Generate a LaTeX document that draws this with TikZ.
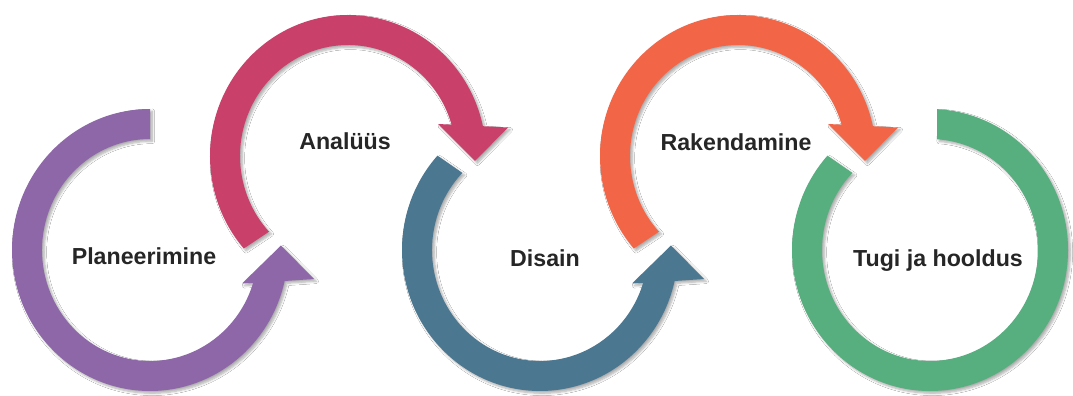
\documentclass[tikz,border=0pt]{standalone}
\usepackage{fontspec}
\setmainfont{Liberation Sans}
\usetikzlibrary{shadows.blur}

\definecolor{phasePurple}{HTML}{8E67A9}
\definecolor{phasePink}{HTML}{C9406A}
\definecolor{phaseBlue}{HTML}{4B7790}
\definecolor{phaseOrange}{HTML}{F26647}
\definecolor{phaseGreen}{HTML}{57AE7E}
\definecolor{labelText}{HTML}{262626}

\tikzset{
  band/.style={blur shadow={shadow xshift=1.3pt, shadow yshift=-1.3pt,
      shadow blur radius=1.3pt, shadow blur steps=6, shadow opacity=32}},
  phaselabel/.style={font=\fontsize{13.2}{16}\selectfont\bfseries,
      text=labelText, anchor=base, inner sep=0pt},
}

\begin{document}
\begin{tikzpicture}[x=0.02cm, y=0.02cm]
  \fill[white] (0,0) rectangle (1073,396);
  \useasboundingbox (0,0) rectangle (1073,396);

  % Planeerimine: lower ring, arrow ends pointing up
  \begin{scope}[shift={(150,146)}]
    \fill[phasePurple, band] (90:138 and 141)
      arc[start angle=90, end angle=347.3, x radius=138, y radius=141]
      -- (164,-29) -- (131,4.5) -- (92,-33.5) -- (342.8:108 and 111)
      arc[start angle=342.8, end angle=90, x radius=108, y radius=111] -- cycle;
  \end{scope}

  % Analüüs: upper ring, arrow ends pointing down
  \begin{scope}[shift={(348,240)}]
    \fill[phasePink, band] (221:138 and 141)
      arc[start angle=221, end angle=12.2, x radius=138, y radius=141]
      -- (160,28.5) -- (127,-5) -- (90,32) -- (16.4:108 and 111)
      arc[start angle=16.4, end angle=223, x radius=108, y radius=111] -- cycle;
  \end{scope}

  % Disain: lower ring
  \begin{scope}[shift={(540,146)}]
    \fill[phaseBlue, band] (138:138 and 141)
      arc[start angle=138, end angle=347.3, x radius=138, y radius=141]
      -- (164,-29) -- (131,4.5) -- (92,-33.5) -- (342.8:108 and 111)
      arc[start angle=342.8, end angle=136, x radius=108, y radius=111] -- cycle;
  \end{scope}

  % Rakendamine: upper ring
  \begin{scope}[shift={(738,240)}]
    \fill[phaseOrange, band] (221:138 and 141)
      arc[start angle=221, end angle=12.2, x radius=138, y radius=141]
      -- (160,28.5) -- (127,-5) -- (90,32) -- (16.4:108 and 111)
      arc[start angle=16.4, end angle=223, x radius=108, y radius=111] -- cycle;
  \end{scope}

  % Tugi ja hooldus: open ring without arrow head
  \begin{scope}[shift={(930,146)}]
    \fill[phaseGreen, band] (87:138 and 141)
      arc[start angle=87, end angle=-222, x radius=138, y radius=141]
      -- (-224:108 and 111)
      arc[start angle=-224, end angle=86.3, x radius=108, y radius=111] -- cycle;
  \end{scope}

  % phase labels
  \node[phaselabel] (plan) at (144,131) {Planeerimine};
  \node[phaselabel] (anal) at (345,246) {Analüüs};
  \node[phaselabel] (dis)  at (545,129) {Disain};
  \node[phaselabel] (rak)  at (736,245.5) {Rakendamine};
  \node[phaselabel] (tugi) at (938,129) {Tugi ja hooldus};
\end{tikzpicture}
\end{document}
